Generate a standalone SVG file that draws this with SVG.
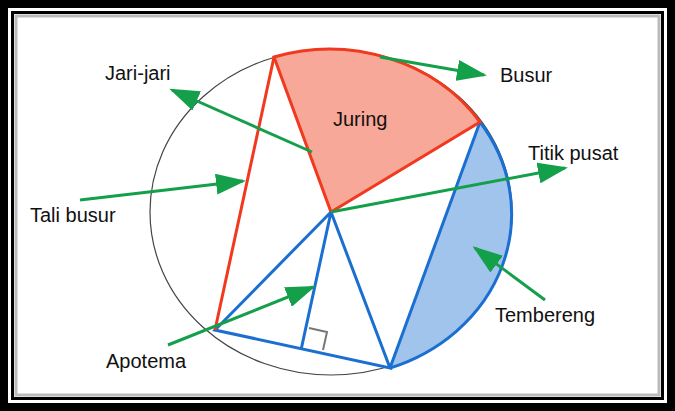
<svg xmlns="http://www.w3.org/2000/svg" width="675" height="411" viewBox="0 0 675 411">
<defs>
<marker id="ah" markerWidth="10" markerHeight="7" refX="9" refY="3.5" orient="auto" markerUnits="strokeWidth"><path d="M0,0L10,3.5L0,7z" fill="#14a04a"/></marker>
<style>
text{font-family:"Liberation Sans",Arial,sans-serif;font-size:20px;fill:#111}
.g{stroke:#14a04a;stroke-width:3;fill:none;marker-end:url(#ah)}
.r{stroke:#f0391e;stroke-width:3;fill:none}
.b{stroke:#1a6fd0;stroke-width:3;fill:none}
</style>
</defs>
<rect width="675" height="411" fill="#000"/>
<rect x="8" y="8" width="659" height="395" fill="#fff"/>
<rect x="12.5" y="12.5" width="650" height="386" fill="none" stroke="#000" stroke-width="3"/>
<rect x="16" y="16" width="643" height="379" fill="none" stroke="#bbb" stroke-width="3"/>
<g id="circle"><ellipse cx="331" cy="212" rx="181" ry="163" fill="none" stroke="#444" stroke-width="1.2"/></g>
<g id="tembereng"><path d="M480,122A181,163 0 0 1 390,368Z" fill="#a0c4ec" stroke="none"/><path d="M480,122A181,163 0 0 1 390,368" class="b"/></g>
<g id="triangle"><path d="M331,212L215,330L390,368Z M331,212L301,350" class="b"/><path d="M390,368L480,122" class="b"/><path d="M309,328L327,332L323,350" fill="none" stroke="#777" stroke-width="2"/></g>
<g id="juring"><path d="M331,212L274,57A181,163 0 0 1 480,122Z" fill="#f8a898" stroke="none"/><path d="M331,212L274,57A181,163 0 0 1 480,122L331,212" class="r"/></g>
<g id="tali"><path d="M274,57L215,330" class="r"/></g>
<g id="connectors">
<path d="M312,152L172,90" class="g"/>
<path d="M380,57L484,75" class="g"/>
<path d="M80,200L243,181" class="g"/>
<path d="M331,212L565,168" class="g"/>
<path d="M545,300L475,248" class="g"/>
<path d="M168,345L313,287" class="g"/>
</g>
<g id="labels">
<text x="105" y="80">Jari-jari</text>
<text x="500" y="82">Busur</text>
<text x="333" y="126">Juring</text>
<text x="528" y="160">Titik pusat</text>
<text x="30" y="222">Tali busur</text>
<text x="495" y="322">Tembereng</text>
<text x="106" y="368">Apotema</text>
</g>
</svg>
